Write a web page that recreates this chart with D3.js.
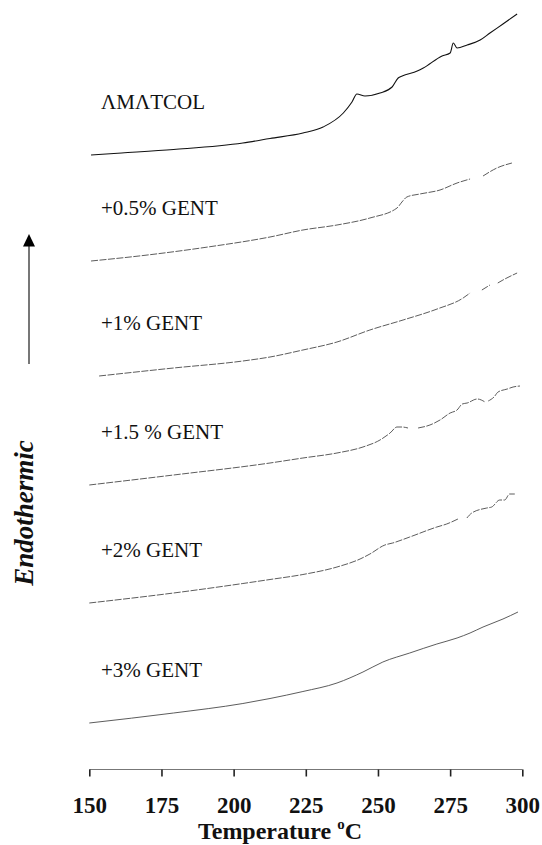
<!DOCTYPE html>
<html>
<head>
<meta charset="utf-8">
<script src="https://cdn.jsdelivr.net/npm/d3@7"></script>
<style>
  body { margin: 0; background: #fff; }
  svg { display: block; }
</style>
</head>
<body>
<svg id="chart" width="542" height="845"></svg>
<script>
// DSC traces, [temperature °C, stacked heat flow (a.u.)], null = gap in trace
const amatcol = [
  [150.6, 615], [161.2, 617], [179.2, 620.5], [203.2, 627], [212.6, 631.5],
  [224, 637], [231, 643], [238, 657], [241, 668], [242.7, 676], [245.5, 674],
  [250.7, 677], [254.9, 683], [257, 692], [258.4, 694], [263.6, 699],
  [265.7, 702], [272.2, 714], [275, 717], [276.1, 727], [277.4, 722],
  [280.9, 725], [285.4, 730], [288.8, 737], [293.3, 746], [298.2, 756]
];
const gent05 = [
  [150.6, 509], [167.2, 514], [191.1, 523], [212.6, 533], [224, 540],
  [235.8, 545], [247.2, 552], [256.6, 562], [258.3, 568], [260, 573],
  [264.5, 576], [271.5, 580], [277.4, 587], [281.9, 591], [284, null],
  [286.4, 594], [291.2, 602], [296.4, 607]
];
const gent1 = [
  [153.4, 394], [179.2, 402], [203.2, 409], [212.6, 413], [224, 420],
  [235.8, 428], [247.2, 440], [258.7, 450], [270.5, 461], [279.5, 472],
  [281.9, 477], [285, null], [286, 480], [288.8, 485], [290.5, null],
  [291.5, 487], [293.3, 490], [298.2, 497]
];
const gent15 = [
  [150, 285], [179.2, 295], [212.6, 307], [224, 312], [235.8, 317],
  [244.8, 323], [250.7, 330], [254.2, 337], [256.6, 343], [258.3, 343],
  [260.4, 342], [262, null], [263.9, 342], [268, 345], [271.5, 350],
  [275, 357], [277.4, 360], [279.2, 366], [280.9, 367], [284.4, 371],
  [287.1, 368], [287.6, null], [288.2, 369], [290.2, 373], [291.6, 378],
  [294.8, 381], [296.8, 383], [299.2, 384]
];
const gent2 = [
  [150, 167], [179.2, 177], [203.2, 186.5], [212.6, 190.5], [224, 195.5],
  [235.8, 203], [243.8, 211], [247.2, 216], [252.4, 225], [255.1, 227],
  [261, 233], [270.4, 243], [273.8, 246], [277.7, 251], [279.2, null],
  [280.8, 252], [282.5, 257], [287.7, 262], [289.4, 263], [292.2, 270],
  [293.9, 270], [295.6, 276], [297.4, 276]
];
const gent3 = [
  [150, 47], [179.2, 57], [203.2, 66.5], [212.6, 71.5], [224, 78.5],
  [235.8, 87], [244.8, 98], [251.7, 108], [261, 117], [270.4, 126],
  [277.4, 132], [281.9, 137], [286.4, 143], [293.3, 151], [298.5, 158]
];

const series = [amatcol, gent05, gent1, gent15, gent2, gent3];
const labels = ["ΛMΛTCOL", "+0.5% GENT", "+1% GENT", "+1.5 % GENT", "+2% GENT", "+3% GENT"];
const xTicks = [150, 175, 200, 225, 250, 275, 300];

const svg = d3.select("#chart");
const serif = "'Liberation Serif', 'Times New Roman', serif";

const x = d3.scaleLinear().domain([150, 300]).range([89.3, 522.3]);
const y = d3.scaleLinear().domain([0, 770]).range([770, 0]);
const axisY = 769.5;

// curves
const line = d3.line()
    .defined(d => d[1] != null)
    .x(d => x(d[0]))
    .y(d => y(d[1]))
    .curve(d3.curveMonotoneX);

svg.append("g")
    .selectAll("path")
    .data(series)
    .join("path")
    .attr("d", line)
    .attr("fill", "none")
    .attr("stroke", (d, i) => i === 0 ? "#111" : "#4a4a4a")
    .attr("stroke-width", (d, i) => i === 0 ? 1.1 : 0.9)
    .attr("stroke-dasharray", (d, i) => (i === 0 || i === 5) ? null : "7,1.5");

// curve labels sit above the start of each trace
svg.append("g")
    .selectAll("text")
    .data(series)
    .join("text")
    .attr("x", 101)
    .attr("y", d => y(d[0][1]) - 46)
    .style("font-family", serif)
    .style("font-size", "21px")
    .attr("fill", "#111")
    .text((d, i) => labels[i]);

// x axis
const xAxis = d3.axisBottom(x)
    .tickValues(xTicks)
    .tickSize(7)
    .tickFormat(d3.format("d"));

const gx = svg.append("g")
    .attr("transform", `translate(0,${axisY})`)
    .call(xAxis);

gx.select(".domain")
    .attr("d", `M${x(150)},0H${x(300)}`)
    .attr("stroke", "#777")
    .attr("stroke-width", 1.2);

gx.selectAll(".tick line")
    .attr("stroke", "#222")
    .attr("stroke-width", 1.6);

gx.selectAll(".tick text")
    .attr("y", 43)
    .attr("dy", 0)
    .attr("fill", "#111")
    .style("font-family", serif)
    .style("font-size", "23px")
    .style("font-weight", "bold");

// axis title
const title = svg.append("text")
    .attr("x", 280)
    .attr("y", 839)
    .attr("text-anchor", "middle")
    .style("font-family", serif)
    .style("font-size", "24px")
    .style("font-weight", "bold")
    .attr("fill", "#111");
title.append("tspan").text("Temperature ");
title.append("tspan").style("font-size", "15px").attr("dy", -10).text("o");
title.append("tspan").attr("dy", 10).text("C");

// endothermic arrow
svg.append("line")
    .attr("x1", 29).attr("x2", 29)
    .attr("y1", 245).attr("y2", 364)
    .attr("stroke", "#555")
    .attr("stroke-width", 1.6);

svg.append("path")
    .attr("d", "M29,234L35,246.5L23,246.5Z")
    .attr("fill", "#000");

svg.append("text")
    .attr("transform", "translate(33,513) rotate(-90)")
    .attr("text-anchor", "middle")
    .style("font-family", serif)
    .style("font-size", "27px")
    .style("font-weight", "bold")
    .style("font-style", "italic")
    .attr("fill", "#111")
    .text("Endothermic");
</script>
</body>
</html>
